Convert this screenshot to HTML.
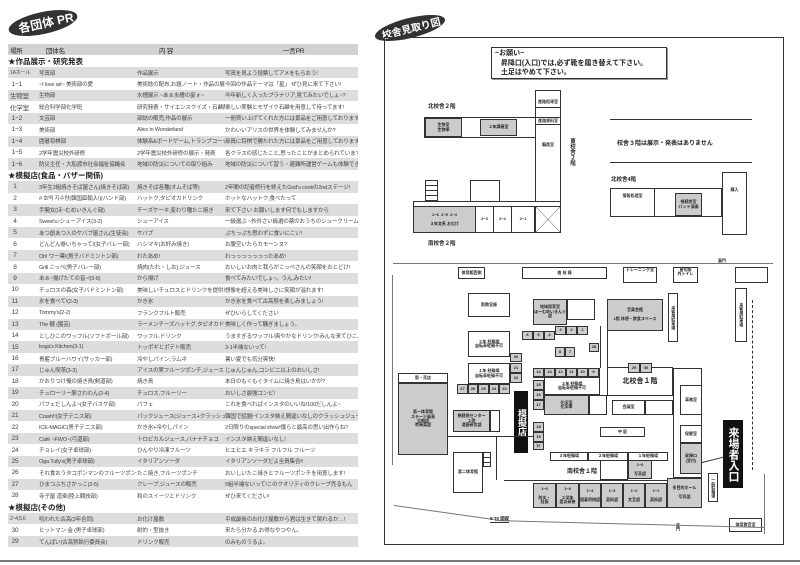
<!DOCTYPE html>
<html><head><meta charset="utf-8"><style>
*{margin:0;padding:0;box-sizing:border-box}
body{width:800px;height:565px;background:#fff;position:relative;overflow:hidden;font-family:"Liberation Sans","Noto Sans CJK JP",sans-serif;color:#222}
#tbl{position:absolute;left:8px;top:44px;width:350px;font-size:5.6px;color:#444}
.r{height:11.45px;display:flex;align-items:center;white-space:nowrap;overflow:hidden}
.r>div{overflow:hidden;letter-spacing:-0.2px}
.r.g{background:#ddd}
.r.h{background:#d2d2d2;font-size:6.5px;color:#222}
.r.s{font-size:7.5px;font-weight:bold;color:#222}
.c1{width:30px;padding-left:2px;font-size:6.5px;flex:none}
.c2{width:99px;padding-left:1px;flex:none}
.c3{width:88px;flex:none}
.c4{flex:1}
.m{position:absolute;border:1px solid #333;background:#fff;font-size:4px;display:flex;align-items:center;justify-content:center;text-align:center;line-height:1.1;font-weight:bold;overflow:hidden}
.gy{background:#ccc}
.bk{background:#111;color:#fff;border:none}
.t{position:absolute;font-weight:bold;white-space:nowrap}
.ln{position:absolute;background:#333}
</style></head><body>

<div style="position:absolute;left:8px;top:12px;width:70px;height:22px;background:#333;border-radius:50%;transform:rotate(-12deg)"></div>
<div class="t" style="left:18px;top:14px;color:#fff;font-size:12px;transform:rotate(-12deg)">各団体 PR</div>

<div id="tbl">
<div class="r h"><div class="c1">場所</div><div class="c2" style="padding-left:8px">団体名</div><div class="c3" style="padding-left:22px">内 容</div><div class="c4" style="padding-left:58px">一言PR</div></div>
<div class="r s">★作品展示・研究発表</div>
<div class="r g"><div class="c1" style="font-size:5px">1Aホール</div><div class="c2">写真部</div><div class="c3">作品展示</div><div class="c4">写真を見よう投票してアメをもらおう!</div></div>
<div class="r"><div class="c1">&nbsp;1−1</div><div class="c2">~I love art~ 美術部の愛</div><div class="c3">美術誌の配布,お題ノート・作品の展示</div><div class="c4">今回の作品テーマは「星」 ぜひ見に来て下さい!</div></div>
<div class="r g"><div class="c1">生物室</div><div class="c2">生物部</div><div class="c3">水槽展示 ~あぁ水槽の宴ォ~</div><div class="c4">今年新しく入ったプラナリア,見てみたいでしょ~?</div></div>
<div class="r"><div class="c1">化学室</div><div class="c2">総合科学部化学班</div><div class="c3">研究発表・サイエンスクイズ・石鹸配布</div><div class="c4">楽しい実験とモザイク石鹸を用意して待ってます!</div></div>
<div class="r g"><div class="c1">&nbsp;1−2</div><div class="c2">文芸部</div><div class="c3">部誌の販売,作品の展示</div><div class="c4">一冊買い上げてくれた方には景品をご用意しております。</div></div>
<div class="r"><div class="c1">&nbsp;1−3</div><div class="c2">美術部</div><div class="c3">Alice in Wonderland</div><div class="c4">かわいいアリスの世界を体験してみませんか?</div></div>
<div class="r g"><div class="c1">&nbsp;1−4</div><div class="c2">囲碁将棋部</div><div class="c3">体験系&amp;ボードゲーム,トランプコーナー</div><div class="c4">部員に将棋で勝たれた方には景品をご用意しております。</div></div>
<div class="r"><div class="c1">&nbsp;1−5</div><div class="c2">2学年震災校外研修</div><div class="c3">2学年震災校外研修の展示・発表</div><div class="c4">各クラスの感じたこと,思ったことがまとめられています。</div></div>
<div class="r g"><div class="c1">&nbsp;1−6</div><div class="c2">防災主任・大船渡市社会福祉協議会</div><div class="c3">地域の防災についての取り組み</div><div class="c4">地域の防災について習う・避難所運営ゲームも体験できるよ。</div></div>
<div class="r s">★模擬店(食品・バザー関係)</div>
<div class="r g"><div class="c1">&nbsp;&nbsp;1</div><div class="c2">3年生2組焼きそば屋さん(焼きそば部)</div><div class="c3">焼きそば各種(オムそば等)</div><div class="c4">2年間の記者修行を終えたGod's cookの2ndステージ!</div></div>
<div class="r"><div class="c1">&nbsp;&nbsp;2</div><div class="c2"># 호떡 지수량(韓国直輸入!)(ハンド部)</div><div class="c3">ハットク,タピオカドリンク</div><div class="c4">ホットなハットク,食べたって</div></div>
<div class="r g"><div class="c1">&nbsp;&nbsp;3</div><div class="c2">手腕女(ほ~むめいきんぐ部)</div><div class="c3">チーズケーキ,変わり種たこ焼き</div><div class="c4">来て下さい お願いします何でもしますから</div></div>
<div class="r"><div class="c1">&nbsp;&nbsp;4</div><div class="c2">Sweet's♪シューアイス(3-2)</div><div class="c3">シューアイス</div><div class="c4">一級選ぶ ~外外さい級選の薬のおうちのシュークリーム~</div></div>
<div class="r g"><div class="c1">&nbsp;&nbsp;5</div><div class="c2">あつ創あつ人のケバブ屋さん(生徒会)</div><div class="c3">ケバブ</div><div class="c4">ぷちっぷち思わずに食いにこい!</div></div>
<div class="r"><div class="c1">&nbsp;&nbsp;6</div><div class="c2">どんどん巻いちゃって!(女子バレー部)</div><div class="c3">ハシマキ(お好み焼き)</div><div class="c4">お腹空いたらカモーンヌ?</div></div>
<div class="r g"><div class="c1">&nbsp;&nbsp;7</div><div class="c2">Oh! ワー菓!(男子バドミントン部)</div><div class="c3">わたあめ!</div><div class="c4">わっっっっっっったあめ!</div></div>
<div class="r"><div class="c1">&nbsp;&nbsp;8</div><div class="c2">Grill こっぺ(男子バレー部)</div><div class="c3">焼肉(たれ・しお),ジュース</div><div class="c4">おいしいお肉と我らがこっぺさんの笑顔をおとどけ!</div></div>
<div class="r g"><div class="c1">&nbsp;&nbsp;9</div><div class="c2">あぁ~揚げたての音~!(3-6)</div><div class="c3">から揚げ</div><div class="c4">食べてみたいでしょ~。うん,みたい!</div></div>
<div class="r"><div class="c1">&nbsp;10</div><div class="c2">チュロスの森(女子バドミントン部)</div><div class="c3">美味しいチュロスとドリンクを提供します!</div><div class="c4">想像を超える美味しさに笑顔が溢れます!</div></div>
<div class="r g"><div class="c1">&nbsp;11</div><div class="c2">氷を食べて!(2-3)</div><div class="c3">かき氷</div><div class="c4">かき氷を食べて古高祭を楽しみましょう!</div></div>
<div class="r"><div class="c1">&nbsp;12</div><div class="c2">Tommy's(2-2)</div><div class="c3">フランクフルト販売</div><div class="c4">ぜひいらしてください</div></div>
<div class="r g"><div class="c1">&nbsp;13</div><div class="c2">The 麺 (園芸)</div><div class="c3">ラーメンチーズハットグ,タピオカドリンク</div><div class="c4">美味しく作って騒ぎましょう。</div></div>
<div class="r"><div class="c1">&nbsp;14</div><div class="c2">としひこのワッフル(ソフトボール部)</div><div class="c3">ワッフル,ドリンク</div><div class="c4">うますぎるワッフル!爽やかなドリンク!みんな来てひこ。</div></div>
<div class="r g"><div class="c1">&nbsp;15</div><div class="c2">koga's Kitchen(3-1)</div><div class="c3">トッポギとポテト販売</div><div class="c4">3-1半端ないって!</div></div>
<div class="r"><div class="c1">&nbsp;16</div><div class="c2">青藍ブルーハワイ(サッカー部)</div><div class="c3">冷やしパイン,ラムネ</div><div class="c4">暑い夏でも気分爽快!</div></div>
<div class="r g"><div class="c1">&nbsp;17</div><div class="c2">じゅん喫茶(3-3)</div><div class="c3">アイスの実フルーツポンチ,ジュース</div><div class="c4">じゅんじゅん,コンビニ以上のおいしさ!</div></div>
<div class="r"><div class="c1">&nbsp;18</div><div class="c2">かおりつけ俺の焼き鳥(剣道部)</div><div class="c3">焼き鳥</div><div class="c4">本日のもぐもぐタイムに焼き鳥はいかが?</div></div>
<div class="r g"><div class="c1">&nbsp;19</div><div class="c2">チュローリー脈さわわん(2-4)</div><div class="c3">チュロス,フルーリー</div><div class="c4">おいしさ最強コンビ!</div></div>
<div class="r"><div class="c1">&nbsp;20</div><div class="c2">パフェだしんよ~(女子バスケ部)</div><div class="c3">パフェ</div><div class="c4">これを食べればインスタのいいね!100だしんよ~</div></div>
<div class="r g"><div class="c1">&nbsp;21</div><div class="c2">Crash!!(女子テニス部)</div><div class="c3">パックジュース(ジュース+クラッシュゼリー)</div><div class="c4">韓国で話題!インスタ映え間違いなしのクラッシュジュース☆</div></div>
<div class="r"><div class="c1">&nbsp;22</div><div class="c2">ICE-MAGIC(男子テニス部)</div><div class="c3">かき氷+冷やしパイン</div><div class="c4">2日限りのspecial show!僕らと最高の思い出作らね?</div></div>
<div class="r g"><div class="c1">&nbsp;23</div><div class="c2">Café ~FWO~(弓道部)</div><div class="c3">トロピカルジュース,バナナチョコ</div><div class="c4">インスタ映え間違いなし!</div></div>
<div class="r"><div class="c1">&nbsp;24</div><div class="c2">チョレイ(女子卓球部)</div><div class="c3">ひんやり冷凍フルーツ</div><div class="c4">ヒエヒエ キラキラ フルフル フルーツ</div></div>
<div class="r g"><div class="c1">&nbsp;25</div><div class="c2">Oga Tully's(男子卓球部)</div><div class="c3">イタリアンソーダ</div><div class="c4">イタリアンソーダだよ全員集合!!</div></div>
<div class="r"><div class="c1">&nbsp;26</div><div class="c2">それ食おうタコポンマンのフルーツポンチ(2-6)</div><div class="c3">たこ焼き,フルーツポンチ</div><div class="c4">おいしいたこ焼きとフルーツポンチを用意します!</div></div>
<div class="r g"><div class="c1">&nbsp;27</div><div class="c2">ひまつぶちさかっこ(2-5)</div><div class="c3">クレープ,ジュースの販売</div><div class="c4">5組半端ないって!このクオリティのクレープ売るもん</div></div>
<div class="r"><div class="c1">&nbsp;28</div><div class="c2">寺子屋 道楽(陸上競技部)</div><div class="c3">和のスイーツとドリンク</div><div class="c4">ぜひ来てください!</div></div>
<div class="r s">★模擬店(その他)</div>
<div class="r g"><div class="c1" style="font-size:5px">2~4,5,6</div><div class="c2">呪われた古高(3年合同)</div><div class="c3">お化け屋敷</div><div class="c4">平成最後のお化け屋敷から君は生きて戻れるか…!</div></div>
<div class="r"><div class="c1">&nbsp;30</div><div class="c2">ヒットマン 金 (男子卓球部)</div><div class="c3">射的・型抜き</div><div class="c4">来たら分かる,お得なやつやん。</div></div>
<div class="r g"><div class="c1">&nbsp;29</div><div class="c2">てんぱい(古高祭執行委員会)</div><div class="c3">ドリンク販売</div><div class="c4">のみものうるよ。</div></div>
</div>

<div class="ln" style="left:0;top:560px;width:800px;height:2px;background:#777"></div>

<!-- map -->
<div style="position:absolute;left:374px;top:18px;width:72px;height:20px;background:#333;border-radius:50%;transform:rotate(-14deg)"></div>
<div class="t" style="left:381px;top:20px;color:#fff;font-size:10px;transform:rotate(-14deg)">校舎見取り図</div>
<div style="position:absolute;left:384px;top:37px;width:400px;height:508px;border:1px solid #333"></div>

<div style="position:absolute;left:491px;top:47px;width:176px;height:32px;border:1px solid #333;box-shadow:1px 1px 0 #999;font-size:7px;font-weight:bold;line-height:9.5px;padding:1px 3px">~お願い~<br>&nbsp;&nbsp;&nbsp;昇降口(入口)では,必ず靴を履き替えて下さい。<br>&nbsp;&nbsp;&nbsp;土足はやめて下さい。</div>

<div class="t" style="left:428px;top:102px;font-size:5.5px">北校舎２階</div>
<div class="m" style="left:424px;top:117px;width:114px;height:21px"></div>
<div class="m gy" style="left:425px;top:118px;width:37px;height:19px">生物室<br>生物準</div>
<div class="m gy" style="left:480px;top:119px;width:37px;height:17px">２年講義室</div>
<div class="m" style="left:535px;top:90px;width:26px;height:112px"></div>
<div class="m" style="left:535px;top:98px;width:26px;height:10px;border-width:0 0 1px 0;background:transparent">進路指導室</div>
<div class="m" style="left:535px;top:117px;width:26px;height:8px">進路資料室</div>
<div class="m" style="left:535px;top:140px;width:26px;height:10px;border:none;background:transparent">職員室</div>
<div class="t" style="left:568px;top:138px;font-size:5.5px;writing-mode:vertical-rl">東校舎２階</div>

<div class="m" style="left:425px;top:180px;width:13px;height:22px;background:repeating-linear-gradient(#fff 0 4px,#333 4px 5px)"></div>
<div class="m" style="left:470px;top:180px;width:30px;height:22px"></div>
<div class="m" style="left:413px;top:201px;width:148px;height:6px"></div>
<div class="m" style="left:413px;top:206px;width:148px;height:27px"></div>
<div class="m gy" style="left:414px;top:207px;width:61px;height:25px;border:none">2−6&nbsp;&nbsp;2−5&nbsp;&nbsp;2−4<br><br>３年文系 おむけ</div>
<div class="m" style="left:475px;top:206px;width:19px;height:27px">2−3</div>
<div class="m" style="left:493px;top:206px;width:19px;height:27px">2−2</div>
<div class="m" style="left:511px;top:206px;width:24px;height:27px">2−1</div>
<div class="m" style="left:535px;top:206px;width:26px;height:27px;background:linear-gradient(to top right,#fff 49%,#333 50%,#fff 51%),linear-gradient(to bottom right,#fff 49%,#333 50%,#fff 51%);background-blend-mode:darken"></div>
<div class="t" style="left:428px;top:239px;font-size:5.5px">南校舎２階</div>

<div class="ln" style="left:610px;top:119px;width:142px;height:1px"></div>
<div class="t" style="left:617px;top:138px;font-size:6px">校舎３階は展示・発表はありません</div>
<div class="ln" style="left:610px;top:162px;width:142px;height:1px"></div>
<div class="t" style="left:611px;top:175px;font-size:5.5px">北校舎4階</div>
<div class="m" style="left:610px;top:188px;width:112px;height:29px"></div>
<div class="m" style="left:610px;top:188px;width:45px;height:29px;justify-content:center;align-items:flex-start;padding-top:5px">情報処理室</div>
<div class="m gy" style="left:675px;top:193px;width:27px;height:23px">視聴覚室<br>バンド演奏</div>
<div class="m" style="left:722px;top:172px;width:25px;height:63px;align-items:flex-start;padding-top:15px">購入</div>

<div class="ln" style="left:393px;top:263px;width:380px;height:1px;background:#777"></div>
<div class="t" style="left:718px;top:258px;font-size:4px">裏門</div>
<div class="m" style="left:458px;top:267px;width:27px;height:12px">体育館西側</div>
<div class="m" style="left:522px;top:267px;width:85px;height:12px">格 技 棟</div>
<div class="m" style="left:623px;top:267px;width:34px;height:16px;align-items:flex-start">トレーニング室</div>
<div class="m" style="left:673px;top:267px;width:25px;height:16px;align-items:flex-start">屋切版<br>外トイレ</div>
<div class="m" style="left:735px;top:267px;width:33px;height:16px"></div>
<div class="ln" style="left:392px;top:275px;width:1px;height:190px;background:#777"></div>

<div class="m" style="left:468px;top:293px;width:42px;height:24px">新教室棟</div>
<div class="m gy" style="left:533px;top:299px;width:34px;height:26px">地域保育室<br>ほーむめいきんぐ部</div>
<div class="m" style="left:567px;top:299px;width:28px;height:21px"></div>
<div class="m gy" style="left:607px;top:299px;width:56px;height:32px">音楽会館<br><br>1階 休憩・飲食スペース</div>
<div class="m" style="left:668px;top:293px;width:10px;height:49px;writing-mode:vertical-rl">来客用駐車場</div>
<div class="m" style="left:735px;top:288px;width:12px;height:54px;writing-mode:vertical-rl">来客用駐車場</div>
<div style="position:absolute;left:752px;top:300px;height:170px;border-left:1px dashed #333"></div>

<div class="m gy" style="left:522px;top:331px;width:11px;height:9px">6</div><div class="m gy" style="left:533px;top:331px;width:11px;height:9px">5</div><div class="m gy" style="left:544px;top:331px;width:11px;height:9px">4</div>
<div class="m gy" style="left:555px;top:326px;width:11px;height:9px">3</div><div class="m gy" style="left:566px;top:326px;width:11px;height:9px">2</div><div class="m gy" style="left:577px;top:326px;width:11px;height:9px">1</div>
<div class="m gy" style="left:589px;top:343px;width:10px;height:9px">28</div>
<div class="m gy" style="left:555px;top:347px;width:10px;height:10px">8</div><div class="m gy" style="left:565px;top:347px;width:10px;height:10px">7</div>
<div class="ln" style="left:600px;top:326px;width:1px;height:42px"></div>
<div class="ln" style="left:607px;top:331px;width:1px;height:40px"></div>

<div class="m" style="left:468px;top:331px;width:42px;height:26px">２年 駐輪場<br>自転車駐輪不可</div>
<div class="m gy" style="left:510px;top:353px;width:12px;height:9px">20</div>
<div class="m" style="left:468px;top:363px;width:42px;height:21px">１年 駐輪場<br>自転車駐輪不可</div>
<div class="m gy" style="left:510px;top:363px;width:12px;height:10px">21</div><div class="m gy" style="left:510px;top:373px;width:12px;height:10px">22</div>
<div class="m gy" style="left:457px;top:384px;width:11px;height:10px">27</div><div class="m gy" style="left:468px;top:384px;width:10px;height:10px">26</div><div class="m gy" style="left:478px;top:384px;width:11px;height:10px">25</div><div class="m gy" style="left:489px;top:384px;width:10px;height:10px">24</div><div class="m gy" style="left:499px;top:384px;width:11px;height:10px">23</div>

<div class="m" style="left:533px;top:368px;width:67px;height:10px"></div>
<div class="m gy" style="left:533px;top:368px;width:11px;height:9px">14</div><div class="m gy" style="left:544px;top:368px;width:11px;height:9px">13</div><div class="m gy" style="left:555px;top:368px;width:11px;height:9px">12</div><div class="m gy" style="left:566px;top:368px;width:11px;height:9px">11</div><div class="m gy" style="left:577px;top:368px;width:11px;height:9px">10</div><div class="m gy" style="left:588px;top:368px;width:11px;height:9px">9</div>
<div class="m" style="left:544px;top:377px;width:56px;height:18px">３年 駐輪場<br>自転車駐輪不可</div>
<div class="m gy" style="left:533px;top:380px;width:11px;height:10px">15</div><div class="m gy" style="left:533px;top:390px;width:11px;height:10px">16</div><div class="m gy" style="left:533px;top:400px;width:11px;height:10px">17</div>
<div class="m gy" style="left:544px;top:395px;width:45px;height:20px">化学室<br>化学準</div>
<div class="m" style="left:589px;top:395px;width:18px;height:20px"></div>
<div class="m gy" style="left:533px;top:422px;width:11px;height:10px">18</div><div class="m gy" style="left:533px;top:432px;width:11px;height:10px">19</div><div class="m gy" style="left:533px;top:442px;width:11px;height:8px">ｽｲ</div>

<div class="m" style="left:607px;top:367px;width:66px;height:29px;font-size:7px">北校舎１階</div>
<div class="m gy" style="left:628px;top:363px;width:12px;height:10px">29</div><div class="m gy" style="left:640px;top:363px;width:12px;height:10px">30</div>
<div class="m" style="left:612px;top:400px;width:33px;height:15px">会議室</div>
<div class="m" style="left:645px;top:400px;width:28px;height:15px"></div>
<div class="m" style="left:600px;top:427px;width:45px;height:10px">中 庭</div>

<div class="m bk" style="left:514px;top:391px;width:14px;height:62px;font-size:9px;writing-mode:vertical-rl">模擬店</div>

<div class="m" style="left:398px;top:373px;width:50px;height:10px">新・売店</div>
<div class="m gy" style="left:398px;top:383px;width:50px;height:72px">第一体育館<br>ステージ発表<br>合唱部<br>吹奏楽部</div>
<div class="m gy" style="left:453px;top:410px;width:37px;height:22px">視聴覚センター<br>２階<br>漫画研究部</div>
<div class="m" style="left:490px;top:410px;width:10px;height:22px"></div>
<div class="m" style="left:453px;top:452px;width:30px;height:41px">第二体育館</div>
<div class="m" style="left:483px;top:452px;width:8px;height:15px;background:repeating-linear-gradient(#fff 0 4px,#333 4px 5px)"></div>
<div class="ln" style="left:448px;top:436px;width:86px;height:1px"></div>
<div class="ln" style="left:496px;top:436px;width:1px;height:44px"></div>
<div class="ln" style="left:504px;top:480px;width:170px;height:1px"></div>

<div class="m" style="left:550px;top:452px;width:38px;height:9px">３年駐輪場</div>
<div class="m" style="left:588px;top:452px;width:40px;height:9px">２年駐輪場</div>
<div class="m" style="left:628px;top:452px;width:40px;height:9px">１年駐輪場</div>
<div class="t" style="left:567px;top:466px;font-size:6px">南校舎１階</div>
<div class="m gy" style="left:628px;top:460px;width:24px;height:19px">1−6<br><br>写真部</div>
<div class="m" style="left:600px;top:460px;width:28px;height:20px"></div>

<div class="m gy" style="left:533px;top:483px;width:23px;height:25px">1−6<br><br>防災・<br>社協</div>
<div class="m gy" style="left:556px;top:483px;width:23px;height:25px">1−5<br><br>２学年<br>震災研修</div>
<div class="m gy" style="left:579px;top:483px;width:22px;height:25px">1−4<br><br>囲碁将棋部</div>
<div class="m gy" style="left:601px;top:483px;width:22px;height:25px">1−3<br><br>美術部</div>
<div class="m gy" style="left:623px;top:483px;width:22px;height:25px">1−2<br><br>文芸部</div>
<div class="m gy" style="left:645px;top:483px;width:22px;height:25px">1−1<br><br>美術部</div>
<div class="m gy" style="left:667px;top:478px;width:35px;height:30px">多目的ホール<br><br>写真部</div>

<div class="m" style="left:673px;top:368px;width:29px;height:110px"></div>
<div class="m" style="left:680px;top:385px;width:22px;height:30px">事務室</div>
<div class="m" style="left:680px;top:425px;width:22px;height:18px">保健室</div>
<div class="m gy" style="left:680px;top:443px;width:22px;height:31px">昇降口<br>(受付)</div>
<div class="m bk" style="left:723px;top:420px;width:20px;height:68px;font-size:11px;writing-mode:vertical-rl">来場者入口</div>
<div class="ln" style="left:702px;top:462px;width:22px;height:1px;transform:rotate(-14deg);transform-origin:left"></div>
<div class="m" style="left:708px;top:473px;width:10px;height:29px;writing-mode:vertical-rl">一般駐輪場</div>
<div class="m" style="left:729px;top:518px;width:33px;height:14px">体育教官室</div>
<div class="ln" style="left:764px;top:474px;width:1px;height:60px;background:#777"></div>
<div class="ln" style="left:394px;top:505px;width:100px;height:1px;background:#777;transform:rotate(8deg);transform-origin:left"></div>
<div class="ln" style="left:495px;top:520px;width:270px;height:1px;background:#777;transform:rotate(1.5deg);transform-origin:left"></div>
<div class="t" style="left:490px;top:516px;font-size:4.5px;border-bottom:1px solid #333">9:30 開錠</div>
<div class="t" style="left:675px;top:523px;font-size:4px;writing-mode:vertical-rl">正門</div>
</body></html>
